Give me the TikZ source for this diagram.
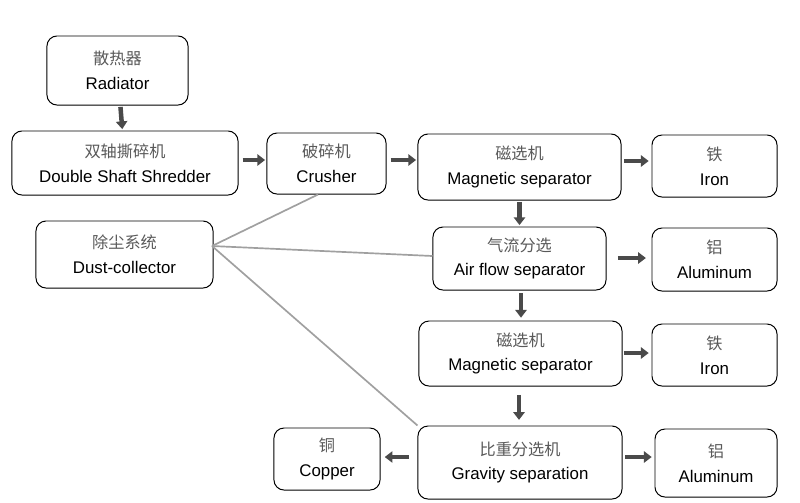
\documentclass[tikz,border=0pt]{standalone}
\usepackage{fontspec}
\setmainfont{Liberation Sans}
\newfontfamily\cjk{Noto Sans CJK SC}
\usetikzlibrary{arrows.meta}
\definecolor{flowarrow}{HTML}{4A4A4A}
\definecolor{dustline}{HTML}{A0A0A0}
\newcommand{\zh}[1]{{\cjk\color{black!65}\fontsize{11.5}{12}\selectfont #1}}
\tikzset{
  box/.style={draw, rounded corners=2.5mm, line width=0.7pt, align=center,
              font=\fontsize{12}{17.5}\selectfont, inner sep=0pt},
  flow/.style={line width=3.2pt, flowarrow,
               -{Triangle[width=8pt, length=5.5pt]}},
  dust/.style={dustline, line width=1.2pt},
}

\begin{document}
\begin{tikzpicture}[x=0.025cm, y=-0.025cm]
    \useasboundingbox (0,0) rectangle (800,502);
    % main line
    \node[box, minimum width=3.525cm, minimum height=1.725cm] (radiator) at (117.5,70.5) {\zh{散热器}\\Radiator};
    \node[box, minimum width=5.65cm, minimum height=1.6cm] (shredder) at (125,163) {\zh{双轴撕碎机}\\Double Shaft Shredder};
    \node[box, minimum width=2.975cm, minimum height=1.525cm] (crusher) at (326.5,163.5) {\zh{破碎机}\\Crusher};
    \node[box, minimum width=5.075cm, minimum height=1.65cm] (magA) at (519.5,167) {\zh{磁选机}\\Magnetic separator};
    \node[box, minimum width=4.425cm, minimum height=1.675cm] (dustcol) at (124.5,254.5) {\zh{除尘系统}\\Dust-collector};
    \node[box, minimum width=4.325cm, minimum height=1.575cm] (airflow) at (519.5,258.5) {\zh{气流分选}\\Air flow separator};
    \node[box, minimum width=5.075cm, minimum height=1.625cm] (magB) at (520.5,353.5) {\zh{磁选机}\\Magnetic separator};
    \node[box, minimum width=5.1cm, minimum height=1.825cm] (gravity) at (520,462.5) {\zh{比重分选机}\\Gravity separation};
    % products
    \node[box, minimum width=3.125cm, minimum height=1.55cm] (ironA) at (714.5,166) {\zh{铁}\\Iron};
    \node[box, minimum width=3.125cm, minimum height=1.575cm] (aluA) at (714.5,259.5) {\zh{铝}\\Aluminum};
    \node[box, minimum width=3.125cm, minimum height=1.55cm] (ironB) at (714.5,355) {\zh{铁}\\Iron};
    \node[box, minimum width=2.65cm, minimum height=1.55cm] (copper) at (327,459) {\zh{铜}\\Copper};
    \node[box, minimum width=3.05cm, minimum height=1.7cm] (aluB) at (716,463) {\zh{铝}\\Aluminum};
    % arrows
    \draw[flow, shorten <=1pt, shorten >=1pt] (radiator) -- (shredder);
    \draw[flow, shorten <=3pt, shorten >=1pt] (shredder.east |- 0,160) -- (crusher.west |- 0,160);
    \draw[flow, shorten <=3pt, shorten >=1pt] (crusher.east |- 0,160) -- (magA.west |- 0,160);
    \draw[flow, shorten <=2pt, shorten >=2pt] (magA.east |- 0,161) -- (ironA.west |- 0,161);
    \draw[flow, shorten <=1pt, shorten >=1pt] (magA) -- (airflow);
    \draw[flow, shorten <=8pt, shorten >=4pt] (airflow.east |- 0,258) -- (aluA.west |- 0,258);
    \draw[flow, shorten <=2pt, shorten >=2pt] (airflow.south -| 521,0) -- (magB.north -| 521,0);
    \draw[flow, shorten <=1pt, shorten >=2pt] (magB.east |- 0,353) -- (ironB.west |- 0,353);
    \draw[flow, shorten <=6pt, shorten >=4pt] (magB.south -| 519,0) -- (gravity.north -| 519,0);
    \draw[flow, shorten <=6pt, shorten >=3pt] (gravity.west |- 0,457) -- (copper.east |- 0,457);
    \draw[flow, shorten <=2pt, shorten >=2pt] (gravity.east |- 0,457) -- (aluB.west |- 0,457);
    % dust lines
    \coordinate (dustout) at (212,246);
    \draw[dust] (dustout) -- (crusher.south -| 318,0);
    \draw[dust] (dustout) -- (airflow.west |- 0,256);
    \draw[dust] (dustout) -- (gravity.north west);
\end{tikzpicture}
\end{document}
